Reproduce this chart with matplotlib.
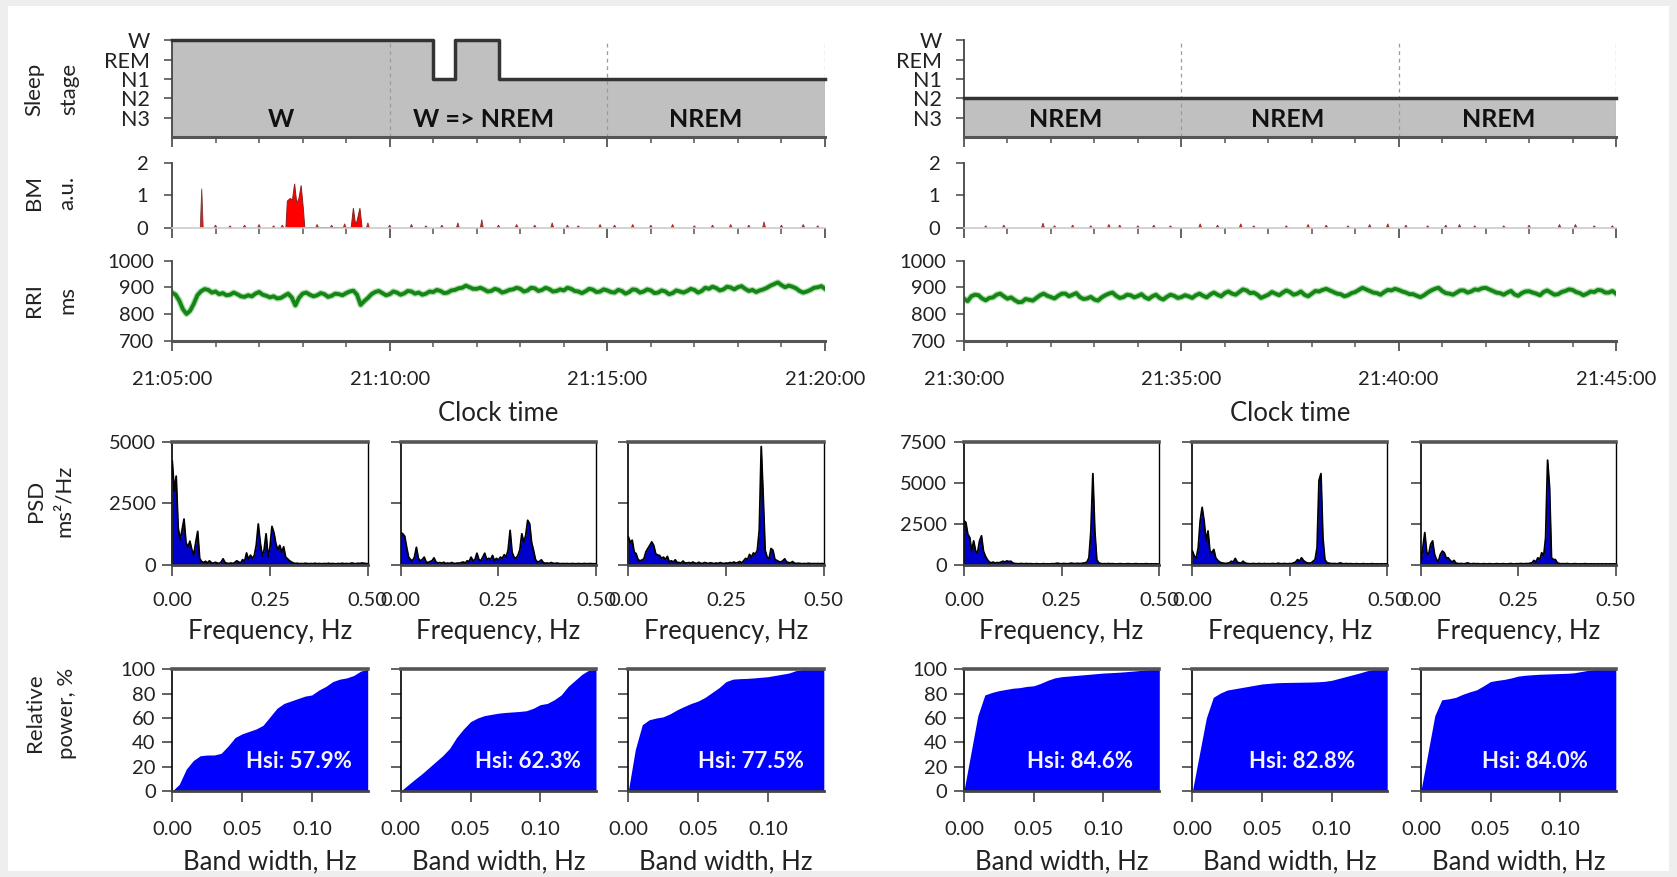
import numpy as np
import matplotlib

matplotlib.use("Agg")
import matplotlib.pyplot as plt
from matplotlib.patches import Rectangle
from matplotlib.ticker import FixedLocator, MultipleLocator

W, H = 1677, 877
plt.rcParams["font.family"] = ["Lato", "DejaVu Sans"]

# ---------------- data ----------------
STAGE_TICKS = ["N3", "N2", "N1", "REM", "W"]          # levels 1..5
# 30-s epochs, 15 min per window (5=W, 3=N1, 2=N2)
STAGE_L = [5, 5, 5, 5, 5, 5, 5, 5, 5, 5, 5, 5, 3, 5, 5,
           3, 3, 3, 3, 3, 3, 3, 3, 3, 3, 3, 3, 3, 3, 3]
STAGE_R = [2, 2, 2, 2, 2, 2, 2, 2, 2, 2, 2, 2, 2, 2, 2,
           2, 2, 2, 2, 2, 2, 2, 2, 2, 2, 2, 2, 2, 2, 2]
SEG_L = ["W", "W => NREM", "NREM"]
SEG_R = ["NREM", "NREM", "NREM"]
TIME_L = ["21:05:00", "21:10:00", "21:15:00", "21:20:00"]
TIME_R = ["21:30:00", "21:35:00", "21:40:00", "21:45:00"]

# body movement, isolated peaks (seconds, a.u.)
BM_L_PEAK_T = [41, 60, 80, 100, 120, 140, 152, 200, 220, 238, 270, 300, 330, 350,
               372, 394, 427, 450, 475, 500, 524, 545, 560, 590, 610, 635, 660,
               690, 720, 745, 770, 795, 816, 840, 870, 890]
BM_L_PEAK_V = [1.2, .08, .06, .08, .1, .06, .08, .1, .08, .12, .15, .08, .1, .06,
               .08, .15, .25, .08, .1, .08, .15, .08, .06, .1, .08, .1, .08,
               .1, .06, .08, .1, .08, .18, .08, .1, .06]
# the two movement bursts
BM_L_BURST_T = [157, 159, 163, 166, 169, 172, 175, 178, 181, 183,
                247, 250, 253, 255, 259, 262]
BM_L_BURST_V = [0, .82, .9, .85, 1.35, .75, .9, 1.3, .6, 0,
                0, .6, .1, .2, .6, 0]
BM_R_PEAK_T = [30, 55, 109, 125, 150, 175, 200, 215, 240, 262, 285, 326, 350, 382,
               400, 445, 475, 500, 530, 560, 585, 610, 640, 665, 684, 705, 745,
               780, 822, 844, 870, 895]
BM_R_PEAK_V = [.06, .08, .14, .06, .08, .06, .1, .08, .06, .08, .06, .12, .08, .12,
               .06, .06, .1, .08, .06, .1, .12, .08, .06, .08, .1, .06, .06,
               .08, .1, .1, .06, .06]

# R-R interval, one value every 5 s (ms)
RRI_L = [880, 872, 850, 818, 800, 812, 838, 870, 885, 893, 890, 880, 884, 874, 878, 870, 872, 880, 874, 866,
         864, 870, 866, 876, 882, 872, 868, 862, 866, 858, 860, 868, 876, 862, 832, 860, 876, 880, 872, 866,
         870, 878, 874, 864, 868, 876, 874, 870, 878, 884, 887, 872, 834, 848, 860, 874, 882, 886, 878, 870,
         874, 884, 880, 872, 877, 886, 884, 876, 880, 872, 876, 884, 882, 890, 886, 878, 880, 888, 890, 896,
         898, 906, 900, 894, 894, 898, 892, 884, 886, 894, 890, 880, 884, 890, 892, 898, 894, 884, 888, 898,
         896, 886, 890, 898, 893, 884, 886, 892, 888, 898, 894, 886, 884, 878, 885, 894, 891, 882, 884, 892,
         888, 882, 880, 890, 886, 876, 882, 892, 890, 880, 884, 892, 888, 878, 880, 888, 884, 874, 878, 888,
         884, 880, 886, 894, 890, 880, 886, 898, 894, 902, 897, 888, 892, 902, 899, 892, 900, 904, 894, 886,
         890, 882, 888, 892, 898, 906, 912, 918, 908, 900, 906, 902, 896, 886, 880, 884, 890, 898, 900, 904,
         894]
RRI_R = [857, 848, 866, 872, 870, 858, 851, 860, 862, 872, 876, 866, 857, 862, 852, 844, 845, 856, 853, 850,
         860, 870, 876, 868, 863, 858, 868, 876, 876, 866, 872, 878, 863, 856, 858, 864, 854, 850, 862, 870,
         876, 880, 868, 860, 863, 872, 870, 862, 867, 874, 862, 856, 866, 872, 860, 854, 864, 872, 868, 860,
         863, 870, 866, 860, 870, 876, 868, 862, 873, 880, 872, 866, 878, 884, 876, 872, 882, 892, 888, 878,
         880, 872, 860, 866, 872, 882, 876, 870, 880, 888, 882, 872, 876, 884, 872, 866, 876, 886, 884, 890,
         894, 888, 882, 876, 874, 866, 870, 878, 882, 890, 898, 892, 886, 880, 878, 872, 882, 890, 888, 894,
         890, 884, 880, 874, 874, 868, 863, 870, 880, 888, 894, 898, 886, 878, 876, 872, 880, 888, 888, 880,
         884, 892, 890, 896, 898, 892, 886, 880, 878, 872, 880, 886, 873, 868, 878, 884, 885, 880, 876, 870,
         882, 888, 880, 872, 874, 882, 886, 892, 890, 882, 878, 870, 876, 884, 882, 890, 888, 880, 880, 886,
         876]

# PSD, 0 .. 0.5 Hz every 0.005 Hz (ms^2/Hz)
PSD_L1 = [4200, 3000, 3600, 1500, 1000, 1400, 1850, 900, 700, 950,
          600, 400, 900, 1350, 250, 120, 80, 130, 60, 150,
          70, 50, 90, 60, 40, 100, 230, 80, 50, 40,
          60, 40, 80, 150, 100, 60, 200, 120, 470, 200,
          380, 250, 370, 800, 1650, 900, 350, 600, 1250, 300,
          700, 1550, 1300, 850, 600, 780, 500, 720, 300, 230,
          150, 100, 60, 40, 50, 30, 40, 30, 50, 40,
          30, 40, 30, 50, 30, 40, 30, 30, 40, 30,
          50, 30, 40, 30, 30, 40, 30, 50, 30, 40,
          30, 40, 60, 40, 30, 50, 40, 60, 50, 40,
          30]
PSD_L2 = [1300, 1250, 1150, 700, 300, 200, 150, 300, 700, 250,
          150, 200, 300, 100, 80, 120, 150, 270, 100, 60,
          80, 50, 90, 40, 60, 40, 80, 50, 40, 60,
          50, 80, 100, 60, 150, 120, 300, 150, 200, 460,
          200, 150, 300, 460, 200, 250, 200, 370, 150, 250,
          180, 300, 250, 400, 300, 600, 1390, 500, 300, 250,
          370, 600, 1250, 900, 1185, 1800, 1660, 900, 570, 200,
          100, 120, 190, 80, 50, 60, 40, 80, 50, 40,
          60, 40, 30, 40, 30, 40, 30, 30, 40, 30,
          30, 40, 30, 30, 40, 30, 30, 40, 30, 30,
          30]
PSD_L3 = [1130, 900, 990, 510, 440, 200, 150, 180, 230, 510,
          650, 780, 920, 780, 440, 380, 370, 250, 300, 200,
          330, 100, 150, 100, 190, 80, 80, 60, 140, 60,
          60, 80, 50, 100, 60, 40, 90, 50, 40, 80,
          60, 40, 70, 50, 40, 60, 40, 80, 50, 40,
          60, 50, 80, 60, 100, 60, 80, 120, 60, 150,
          250, 200, 410, 300, 470, 420, 580, 1400, 4800, 2770,
          580, 300, 230, 650, 580, 200, 165, 120, 100, 150,
          230, 100, 80, 60, 120, 50, 40, 50, 40, 30,
          40, 30, 50, 40, 30, 40, 30, 40, 30, 40,
          30]
PSD_R1 = [2670, 2570, 1850, 1640, 820, 1440, 820, 720, 1440, 1750,
          820, 510, 300, 150, 100, 150, 80, 120, 100, 150,
          200, 150, 220, 180, 200, 100, 60, 50, 40, 60,
          50, 40, 60, 40, 50, 40, 30, 50, 40, 30,
          40, 50, 30, 40, 30, 50, 40, 60, 80, 50,
          40, 60, 50, 40, 60, 80, 60, 50, 70, 60,
          60, 80, 100, 150, 410, 2050, 5550, 2050, 300, 100,
          60, 40, 50, 40, 60, 40, 50, 40, 30, 40,
          50, 40, 30, 40, 50, 40, 30, 40, 50, 40,
          30, 40, 30, 50, 40, 30, 40, 30, 40, 30,
          30]
PSD_R2 = [820, 510, 400, 1030, 2670, 3490, 2670, 1440, 2050, 820,
          720, 920, 400, 250, 150, 100, 80, 60, 80, 100,
          200, 150, 370, 150, 100, 80, 200, 100, 60, 50,
          40, 60, 50, 40, 60, 50, 40, 60, 40, 50,
          40, 60, 50, 40, 80, 50, 40, 60, 50, 40,
          60, 50, 100, 150, 300, 200, 410, 250, 150, 100,
          80, 100, 200, 300, 1030, 5140, 5550, 1640, 300, 120,
          80, 60, 50, 60, 40, 60, 100, 50, 40, 60,
          40, 50, 40, 30, 50, 40, 30, 40, 50, 30,
          40, 30, 50, 40, 30, 40, 30, 40, 30, 40,
          30]
PSD_R3 = [200, 1030, 1950, 720, 620, 1230, 1440, 620, 300, 200,
          620, 820, 720, 400, 410, 250, 150, 250, 80, 60,
          50, 60, 40, 60, 100, 50, 40, 60, 40, 50,
          40, 30, 50, 40, 30, 50, 40, 30, 40, 50,
          40, 30, 50, 40, 30, 40, 60, 40, 30, 50,
          40, 60, 50, 40, 60, 50, 80, 100, 250, 150,
          410, 300, 720, 510, 1640, 6370, 4730, 410, 300, 300,
          100, 60, 40, 50, 40, 60, 40, 30, 40, 50,
          40, 30, 40, 30, 50, 40, 30, 40, 30, 40,
          30, 40, 30, 40, 30, 40, 30, 40, 30, 40,
          30]

# cumulative relative power, band width 0 .. 0.14 Hz every 0.005 Hz (%)
REL_L1 = [0, 5.5, 18, 25, 29, 29.6, 29.6, 31, 37, 44, 47, 49, 51, 54, 61,
          68, 72, 74, 76, 78, 79, 83, 86, 90, 92, 93, 95, 98.6, 100]
REL_L2 = [0, 4.8, 9.5, 14, 19, 24, 29, 35, 44, 51, 57, 60, 62, 63, 64,
          64.6, 65, 65.4, 66, 68, 71, 72, 75, 79, 86, 91, 96, 99.5, 100]
REL_L3 = [0, 34, 54.5, 58.6, 60, 61, 63.5, 66.8, 69.5, 72, 74, 77, 81, 85, 90,
          92, 92.4, 92.6, 93, 93.5, 94, 95, 96, 97, 99, 100, 100, 100, 100]
REL_R1 = [0, 31, 62, 79, 81, 82.5, 83.5, 84.5, 85, 86, 86.5, 88.5, 91, 93, 94,
          94.5, 95, 95.5, 96, 96.5, 97, 97.3, 97.6, 98, 98.5, 99, 99.6, 100, 100]
REL_R2 = [0, 30, 60, 77, 80.5, 83, 84, 85, 86, 87, 88, 88.5, 89, 89.2, 89.3,
          89.4, 89.5, 89.6, 89.8, 90.2, 91, 92.5, 94, 95.5, 97, 98.7, 100, 100, 100]
REL_R3 = [0, 31, 62, 75, 75.8, 77, 79.5, 81.5, 83.2, 86.5, 90, 91, 91.8, 93, 94.5,
          95.2, 95.6, 96, 96.2, 96.4, 96.6, 96.8, 97.2, 98.2, 99.2, 100, 100, 100, 100]
HSI = ["57.9", "62.3", "77.5", "84.6", "82.8", "84.0"]

FREQ = np.arange(len(PSD_L1)) * 0.005
BAND = np.arange(len(REL_L1)) * 0.005

# ---------------- layout (pixels) ----------------
TOP_X = [(172, 825), (964, 1616)]
SLEEP_Y, BM_Y, RRI_Y = (40.4, 137), (162.7, 227.7), (260.5, 340.7)
SMALL_X = [(172.3, 367.7), (400.8, 596), (628.3, 823.8),
           (963.9, 1159.3), (1192.4, 1387.2), (1420.9, 1615.8)]
PSD_Y, REL_Y = (441.7, 564.5), (669.4, 791)
SEG_POS = [[2.5, 7.15, 12.25], [2.33, 7.44, 12.3]]
HSI_POS = [0.091, 0.091, 0.088, 0.083, 0.079, 0.082]

TXT = "#222222"
TICK = "#555555"
LABEL_FS = 18.5
TICK_FS = 14.5

fig = plt.figure(figsize=(W / 100, H / 100), dpi=100)
fig.patch.set_facecolor("#eeeeee")
fig.add_artist(Rectangle((8 / W, 6 / H), 1 - 16 / W, 1 - 12 / H, transform=fig.transFigure,
                         facecolor="white", edgecolor="none", zorder=-10))


def add_ax(xr, yr):
    x0, x1 = xr
    y0, y1 = yr
    return fig.add_axes([x0 / W, 1 - y1 / H, (x1 - x0) / W, (y1 - y0) / H])


def ftext(x, y, s, **kw):
    kw.setdefault("color", TXT)
    kw.setdefault("ha", "center")
    kw.setdefault("va", "center")
    fig.text(x / W, 1 - y / H, s, **kw)


def time_axis(ax, labels=None):
    ax.set_xlim(0, 15)
    ax.xaxis.set_major_locator(FixedLocator([0, 5, 10, 15]))
    ax.xaxis.set_minor_locator(MultipleLocator(1))
    ax.tick_params(axis="x", which="major", direction="out", length=7.5, width=1.3,
                   color=TICK, labelsize=TICK_FS, labelcolor=TXT, pad=14)
    ax.tick_params(axis="x", which="minor", direction="out", length=4.3, width=1.1, color=TICK)
    ax.tick_params(axis="y", direction="out", length=6, width=1.2, color=TICK,
                   labelsize=TICK_FS, labelcolor=TXT, pad=7)
    if labels:
        ax.set_xticklabels(labels)
    else:
        ax.set_xticklabels([])
    ax.spines[["top", "right"]].set_visible(False)
    ax.spines["left"].set_color("#444444")
    ax.spines["left"].set_linewidth(1.3)
    ax.patch.set_alpha(0)


def draw_top(side, stages, segs, bm_t, bm_v, burst_t, burst_v, rri, times):
    xr = TOP_X[side]

    # sleep stage
    ax = add_ax(xr, SLEEP_Y)
    edges = np.arange(len(stages) + 1) * 0.5
    levels = stages + [stages[-1]]
    ax.fill_between(edges, levels, 0, step="post", color="#c0c0c0", lw=0)
    ax.step(edges, levels, where="post", color="#333333", lw=2.5, clip_on=False, zorder=3)
    for m in (5, 10, 15):
        ax.axvline(m, color="#9a9a9a", lw=0.9, ls=(0, (3, 3)), zorder=2)
    for x, s in zip(SEG_POS[side], segs):
        ax.text(x, 0.88, s, ha="center", va="center", fontsize=18, fontweight="bold", color="#111111")
    ax.set_ylim(0, 5)
    ax.set_yticks([1, 2, 3, 4, 5], STAGE_TICKS)
    time_axis(ax)
    ax.tick_params(axis="y", pad=10, labelsize=15.5)
    ax.spines["bottom"].set_color("#555555")
    ax.spines["bottom"].set_linewidth(2.2)

    # body movement
    ax = add_ax(xr, BM_Y)
    for t, v in zip(bm_t, bm_v):
        tri_t = [(t - 2) / 60, t / 60, (t + 2) / 60]
        ax.fill(tri_t, [0, v, 0], facecolor="#ff1010", edgecolor="#7a3a3a", lw=0.6)
    if burst_t:
        ax.fill([t / 60 for t in burst_t], burst_v, facecolor="#ff0000", edgecolor="#8a2020", lw=0.7)
    ax.set_ylim(0, 2)
    ax.set_yticks([0, 1, 2])
    time_axis(ax)
    ax.tick_params(axis="y", pad=11)
    ax.spines["bottom"].set_color("#cccccc")
    ax.spines["bottom"].set_linewidth(1.2)

    # R-R interval
    ax = add_ax(xr, RRI_Y)
    t_rri = np.arange(len(rri)) * 5 / 60
    ax.plot(t_rri, rri, color="#7cc87c", lw=4.6, solid_joinstyle="round", alpha=0.6)
    ax.plot(t_rri, rri, color="#158515", lw=2.8, solid_joinstyle="round")
    ax.set_ylim(700, 1000)
    ax.set_yticks([700, 800, 900, 1000])
    time_axis(ax, times)
    ax.spines["bottom"].set_color("#555555")
    ax.spines["bottom"].set_linewidth(2.2)

    ftext((xr[0] + xr[1]) / 2, 413, "Clock time", fontsize=LABEL_FS)


def small_axis_style(ax):
    ax.spines["top"].set_color("#555555")
    ax.spines["top"].set_linewidth(2.6)
    ax.spines["left"].set_color("black")
    ax.spines["left"].set_linewidth(1.2)
    ax.spines["bottom"].set_color("#444444")
    ax.spines["bottom"].set_linewidth(2.0)
    ax.tick_params(axis="both", direction="out", color=TICK, width=1.3,
                   labelsize=TICK_FS, labelcolor=TXT)
    ax.tick_params(axis="y", length=7, pad=5)


def draw_psd(i, psd, ymax, yticks):
    ax = add_ax(SMALL_X[i], PSD_Y)
    ax.fill_between(FREQ, psd, 0, color="#0000cc", lw=0)
    ax.plot(FREQ, psd, color="black", lw=1.3)
    ax.set_xlim(0, 0.5)
    ax.set_ylim(0, ymax)
    ax.set_xticks([0, 0.25, 0.5], ["0.00", "0.25", "0.50"])
    ax.set_yticks(yticks)
    if i % 3 != 0:
        ax.set_yticklabels([])
    small_axis_style(ax)
    ax.tick_params(axis="x", length=8, pad=12)
    ax.spines["right"].set_color("black")
    ax.spines["right"].set_linewidth(1.0)
    x0, x1 = SMALL_X[i]
    ftext((x0 + x1) / 2, 632, "Frequency, Hz", fontsize=LABEL_FS)


def draw_rel(i, rel):
    ax = add_ax(SMALL_X[i], REL_Y)
    ax.fill_between(BAND, rel, 0, color="#0000ff", lw=0)
    ax.set_xlim(0, 0.14)
    ax.set_ylim(0, 100)
    ax.set_xticks([0, 0.05, 0.10], ["0.00", "0.05", "0.10"])
    ax.set_yticks([0, 20, 40, 60, 80, 100])
    if i % 3 != 0:
        ax.set_yticklabels([])
    small_axis_style(ax)
    ax.tick_params(axis="x", length=8, pad=13.5)
    ax.spines["right"].set_visible(False)
    ax.text(HSI_POS[i], 24, f"Hsi: {HSI[i]}%", ha="center", va="center",
            fontsize=16, fontweight="bold", color="#f4f4ff")
    x0, x1 = SMALL_X[i]
    ftext((x0 + x1) / 2, 862, "Band width, Hz", fontsize=LABEL_FS)


draw_top(0, STAGE_L, SEG_L, BM_L_PEAK_T, BM_L_PEAK_V, BM_L_BURST_T, BM_L_BURST_V, RRI_L, TIME_L)
draw_top(1, STAGE_R, SEG_R, BM_R_PEAK_T, BM_R_PEAK_V, [], [], RRI_R, TIME_R)

for i, psd in enumerate([PSD_L1, PSD_L2, PSD_L3]):
    draw_psd(i, psd, 5000, [0, 2500, 5000])
for i, psd in enumerate([PSD_R1, PSD_R2, PSD_R3]):
    draw_psd(i + 3, psd, 7500, [0, 2500, 5000, 7500])
for i, rel in enumerate([REL_L1, REL_L2, REL_L3, REL_R1, REL_R2, REL_R3]):
    draw_rel(i, rel)

# row labels
YL_FS = 16
for x, s in [(34, "Sleep"), (69, "stage")]:
    ftext(x, 89, s, rotation=90, fontsize=YL_FS)
for x, s in [(34, "BM"), (67, "a.u.")]:
    ftext(x, 193, s, rotation=90, fontsize=YL_FS)
for x, s in [(34, "RRI"), (67, "ms")]:
    ftext(x, 300, s, rotation=90, fontsize=YL_FS)
for x, s in [(36, "PSD"), (64, "ms²/Hz")]:
    ftext(x, 501, s, rotation=90, fontsize=YL_FS)
for x, s in [(35, "Relative"), (67, "power, %")]:
    ftext(x, 713, s, rotation=90, fontsize=YL_FS)

fig.savefig("out.png", dpi=100, facecolor=fig.get_facecolor())
